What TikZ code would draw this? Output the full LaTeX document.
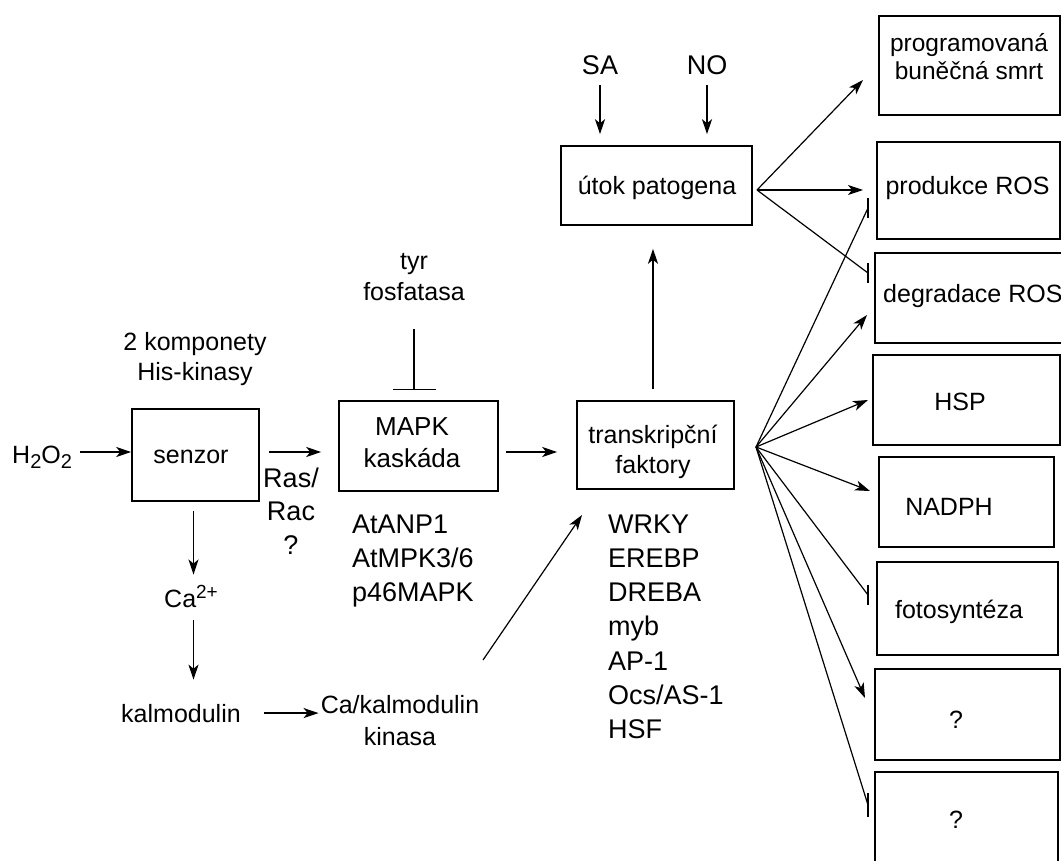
\documentclass[tikz,border=0pt]{standalone}
\usepackage{fontspec}
\setmainfont{Liberation Sans}
\usetikzlibrary{arrows.meta}
\begin{document}
\begin{tikzpicture}[x=1pt,y=-1pt,
  box/.style={draw, line width=1.6pt, rectangle, inner sep=0pt},
  t/.style={font=\fontsize{25}{30.5}\selectfont, inner sep=0pt, anchor=base, align=center},
  tl/.style={font=\fontsize{27}{34.3}\selectfont, inner sep=0pt, anchor=base west, align=left},
  arr/.style={line width=1.6pt, -{Stealth[length=15pt,width=10pt,inset=4pt]}},
  fan/.style={line width=1.2pt, -{Stealth[length=15pt,width=10pt,inset=4pt]}},
  fanl/.style={line width=1.2pt},
  tbar/.style={line width=1.6pt},
  inh/.style={line width=1.6pt, -{Bar[width=43pt,line width=1.6pt]}},
]
\useasboundingbox (0,0) rectangle (1061,861);
\clip (0,0) rectangle (1061,861);

% boxes
\node[box, minimum width=127pt, minimum height=92pt] (senzor) at (195.5,455) {};
\node[box, minimum width=159pt, minimum height=90pt] (mapk) at (418.5,446) {};
\node[box, minimum width=157pt, minimum height=88pt] (tf) at (655.5,445) {};
\node[box, minimum width=191pt, minimum height=79pt] (utok) at (656.5,185.5) {};
\node[box, minimum width=181pt, minimum height=99pt] (prog) at (969.5,65.5) {};
\node[box, minimum width=183pt, minimum height=97pt] (prod) at (968.5,190.5) {};
\node[box, minimum width=200pt, minimum height=90pt] (degr) at (975,298) {};
\node[box, minimum width=187pt, minimum height=90pt] (hsp) at (966.5,400) {};
\node[box, minimum width=175pt, minimum height=90pt] (nadph) at (966.5,502) {};
\node[box, minimum width=181pt, minimum height=93pt] (foto) at (967.5,608.5) {};
\node[box, minimum width=185pt, minimum height=91pt] (q1box) at (967.5,714.5) {};
\node[box, minimum width=183pt, minimum height=108pt] (q2box) at (966.5,826) {};

% texts (base anchor of a multi-line node = baseline of its last line)
\node[t] (senzort) at (191,463) {senzor};
\node[t, font=\fontsize{26}{32}\selectfont] (mapkt) at (412,467) {MAPK\\kaskáda};
\node[t] (tft) at (653,473.5) {transkripční\\faktory};
\node[t] (utokt) at (657,195) {útok patogena};
\node[t, font=\fontsize{24.5}{28}\selectfont] (progt) at (969,80) {programovaná\\buněčná smrt};
\node[t] (prodt) at (967.5,195) {produkce ROS};
\node[t, anchor=base west] (degrt) at (883,303) {degradace ROS};
\node[t] (hspt) at (960,410) {HSP};
\node[t] (nadpht) at (949,515) {NADPH};
\node[t] (fotot) at (959,618) {fotosyntéza};
\node[t] (q1t) at (956,728) {?};
\node[t] (q2t) at (956,828) {?};

\node[t] (komp) at (195,380.5) {2 komponety\\His-kinasy};
\node[t, anchor=base west] (h2o2) at (12,463) {H\raisebox{-5pt}{\fontsize{20}{20}\selectfont 2}O\raisebox{-5pt}{\fontsize{20}{20}\selectfont 2}};
\node[t, anchor=base west] (ca) at (164,607) {Ca\raisebox{9pt}{\fontsize{19}{19}\selectfont 2+}};
\node[t] (kalm) at (181,722) {kalmodulin};
\node[t, font=\fontsize{25}{32}\selectfont] (cak) at (400,745) {Ca/kalmodulin\\kinasa};
\node[t] (fos) at (414,300.5) {tyr\\fosfatasa};
\node[t, font=\fontsize{27}{33}\selectfont] (sa) at (600,75) {SA};
\node[t, font=\fontsize{27}{33}\selectfont] (no) at (707,75) {NO};
\node[t, font=\fontsize{27}{33.5}\selectfont] (ras) at (291,554) {Ras/\\Rac\\?};
\node[tl] (mapklist) at (352,601.6) {AtANP1\\AtMPK3/6\\p46MAPK};
\node[tl] (tflist) at (608,738.8) {WRKY\\EREBP\\DREBA\\myb\\AP-1\\Ocs/AS-1\\HSF};

% coordinates for free ends
\coordinate (uo) at (757,190);
\coordinate (p1) at (863,80);
\coordinate (p2) at (863,190);
\coordinate (p3) at (868,273);
\coordinate (tfo) at (756,447);
\coordinate (r1) at (868,208);
\coordinate (r2) at (867,315);
\coordinate (r3) at (868,400);
\coordinate (r4) at (870,491);
\coordinate (r5) at (868,595);
\coordinate (r6) at (865,698);
\coordinate (r7) at (868,805);
\coordinate (cakout) at (483,660);
\coordinate (tfin) at (582,515);

% main connectors
\draw[arr, shorten <=8pt] ([yshift=3pt]h2o2.east |- senzor.west) -- ([yshift=3pt]senzor.west);
\draw[arr, shorten <=9pt, shorten >=17pt] ([yshift=3pt]senzor.east) -- ([yshift=3pt]senzor.east -| mapk.west);
\draw[arr, shorten <=7pt, shorten >=19pt] ([yshift=-6pt]mapk.east) -- ([yshift=-6pt]mapk.east -| tf.west);
\draw[arr, shorten <=9pt, shorten >=10pt] ([xshift=-2pt]senzor.south) -- ([xshift=-2pt]senzor.south |- ca.north);
\draw[arr, shorten <=13pt, shorten >=24pt] ([xshift=-2pt]senzor.south |- ca.south) -- ([xshift=-2pt]senzor.south |- kalm.north);
\draw[arr, shorten <=23pt, shorten >=2pt] (kalm.east) -- (kalm.east -| cak.west);
\draw[fan] (cakout) -- (tfin);
\draw[inh, shorten <=28pt, shorten >=10pt] (fos.south) -- (fos.south |- mapk.north);
\draw[arr, shorten <=10pt, shorten >=11pt] (sa.south) -- (sa.south |- utok.north);
\draw[arr, shorten <=10pt, shorten >=11pt] (no.south) -- (no.south |- utok.north);
\draw[arr, shorten <=11pt, shorten >=23pt] ([xshift=-2.5pt]tf.north) -- ([xshift=-2.5pt]tf.north |- utok.south);

% fan from utok
\draw[fan] (uo) -- (p1);
\draw[fan] (uo) -- (p2);
\draw[fanl] (uo) -- (p3);
\draw[tbar] ([yshift=10pt]p3) -- ([yshift=-10pt]p3);

% fan from transkripcni faktory
\draw[fanl] (tfo) -- (r1);
\draw[tbar] ([yshift=10pt]r1) -- ([yshift=-10pt]r1);
\draw[fan] (tfo) -- (r2);
\draw[fan] (tfo) -- (r3);
\draw[fan] (tfo) -- (r4);
\draw[fanl] (tfo) -- (r5);
\draw[tbar] ([yshift=10pt]r5) -- ([yshift=-10pt]r5);
\draw[fan] (tfo) -- (r6);
\draw[fanl] (tfo) -- (r7);
\draw[tbar] ([yshift=12pt]r7) -- ([yshift=-12pt]r7);
\end{tikzpicture}
\end{document}
